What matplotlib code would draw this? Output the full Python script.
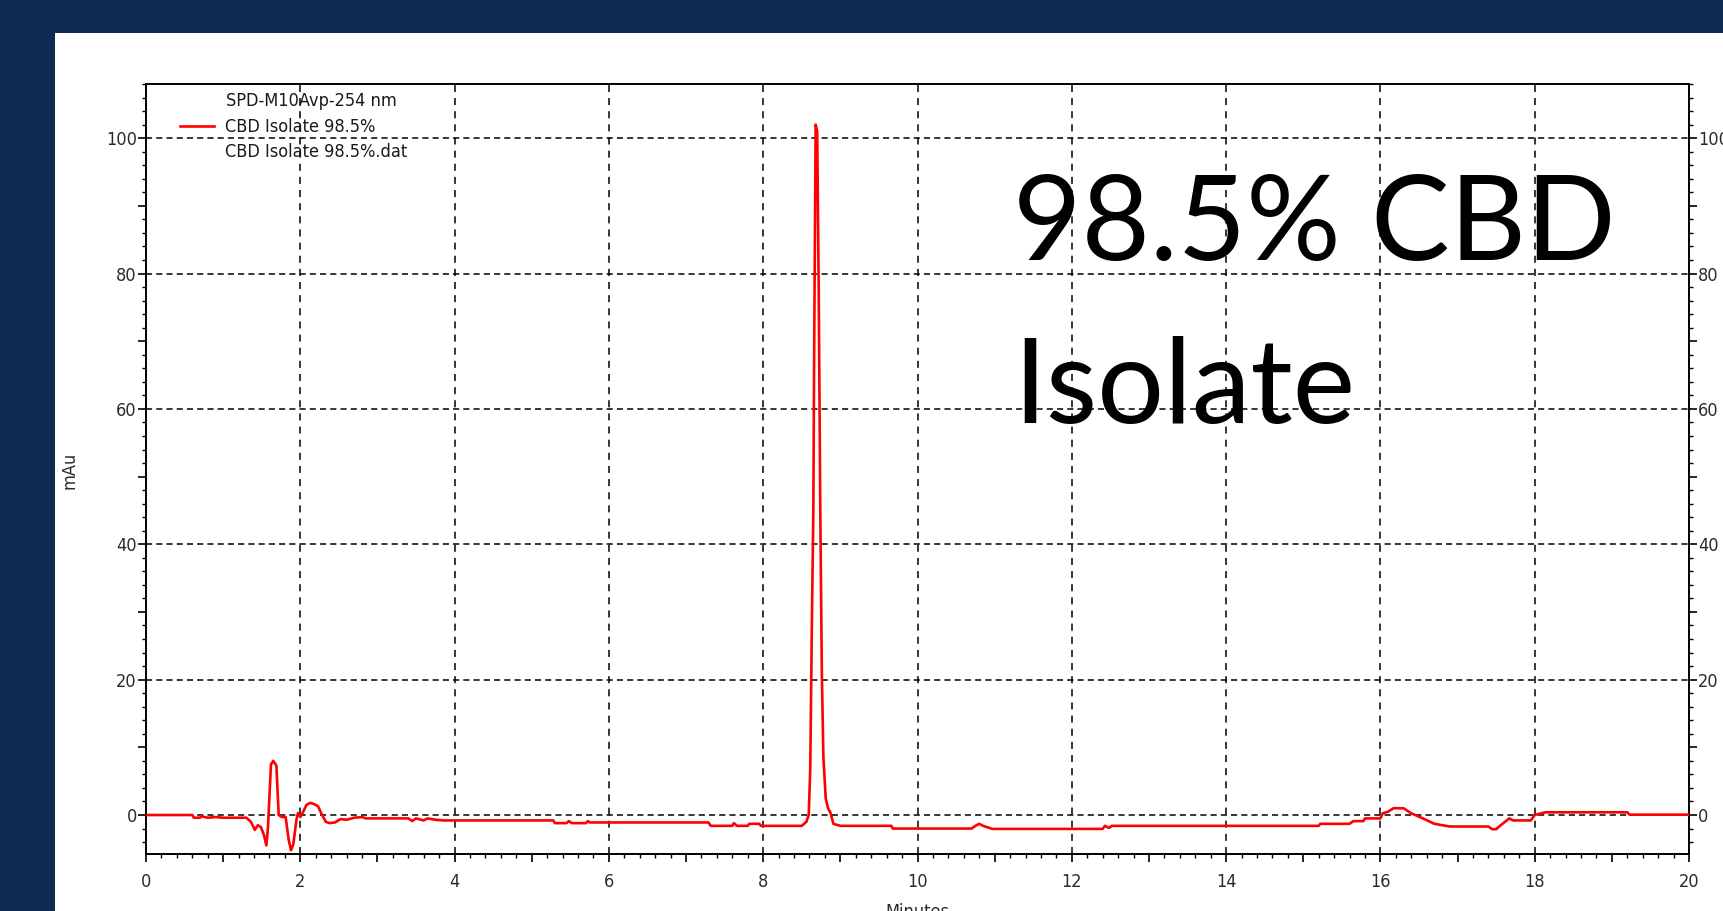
import matplotlib
matplotlib.use("Agg")
import matplotlib.pyplot as plt
from matplotlib import font_manager
from matplotlib.font_manager import FontProperties
from matplotlib.patches import Rectangle
from matplotlib.ticker import MultipleLocator, FuncFormatter

W, H = 1723, 911            # output size in pixels (dpi 100)
NAVY = "#0f2a53"

# HPLC trace: retention time (min) and detector response (mAU)
time_min = [
    0.00, 0.60, 0.62, 0.70, 0.72, 0.80, 0.90, 1.00, 1.30, 1.36, 1.41, 1.45,
    1.49, 1.53, 1.56, 1.58, 1.62, 1.65, 1.69, 1.72, 1.76, 1.81, 1.85, 1.88,
    1.91, 1.95, 1.97, 2.00, 2.03, 2.08, 2.13, 2.18, 2.23, 2.27, 2.33, 2.38,
    2.45, 2.52, 2.60, 2.70, 2.80, 2.85, 3.00, 3.40, 3.45, 3.50, 3.60, 3.65,
    3.75, 3.86, 5.28, 5.30, 5.45, 5.48, 5.52, 5.70, 5.73, 5.75, 7.29, 7.32,
    7.60, 7.62, 7.66, 7.80, 7.82, 7.95, 7.97, 8.50, 8.56, 8.59, 8.61, 8.63,
    8.65, 8.66, 8.68, 8.70, 8.72, 8.74, 8.76, 8.78, 8.81, 8.84, 8.87, 8.91,
    9.00, 9.66, 9.68, 10.70, 10.75, 10.80, 10.85, 10.97, 12.40, 12.43, 12.48,
    12.52, 15.20, 15.22, 15.60, 15.65, 15.78, 15.80, 16.00, 16.03, 16.10,
    16.17, 16.30, 16.40, 16.55, 16.70, 16.90, 17.40, 17.45, 17.50, 17.55,
    17.67, 17.72, 17.95, 18.00, 18.14, 19.20, 19.23, 20.00,
]
mau = [
    0.0, 0.0, -0.4, -0.4, -0.2, -0.4, -0.3, -0.4, -0.4, -1.0, -2.2, -1.5,
    -1.8, -3.0, -4.5, -2.0, 7.5, 8.0, 7.3, 0.0, -0.3, -0.3, -3.7, -5.2,
    -4.3, -0.7, 0.3, -0.3, 0.3, 1.5, 1.8, 1.6, 1.3, 0.3, -1.0, -1.2,
    -1.1, -0.6, -0.7, -0.4, -0.3, -0.5, -0.5, -0.5, -0.9, -0.5, -0.8, -0.5,
    -0.7, -0.8, -0.8, -1.2, -1.2, -0.9, -1.2, -1.2, -0.9, -1.1, -1.1, -1.6,
    -1.6, -1.2, -1.6, -1.6, -1.3, -1.3, -1.6, -1.6, -1.0, 0.0, 6.8, 27.5,
    45.0, 67.5, 102.0, 101.0, 77.0, 45.0, 21.0, 8.6, 2.5, 1.0, 0.4, -1.3,
    -1.6, -1.6, -2.0, -2.0, -1.6, -1.3, -1.6, -2.05, -2.05, -1.6, -1.9,
    -1.6, -1.6, -1.3, -1.3, -0.9, -0.9, -0.5, -0.5, 0.25, 0.5,
    1.0, 1.0, 0.25, -0.5, -1.3, -1.7, -1.7, -2.1, -2.1, -1.6,
    -0.5, -0.8, -0.8, 0.0, 0.4, 0.4, 0.05, 0.05,
]

x_grid = [2, 4, 6, 8, 10, 12, 14, 16, 18]
y_grid = [0, 20, 40, 60, 80, 100]
legend_title = "SPD-M10Avp-254 nm"
trace_name = "CBD Isolate 98.5%"
trace_file = "CBD Isolate 98.5%.dat"
headline = ["98.5% CBD", "Isolate"]

# pick a condensed sans if one is installed, else plain Liberation Sans
small_font = None
for f in font_manager.fontManager.ttflist:
    if f.name == "Liberation Sans Narrow" and f.weight in (400, "normal", "regular") \
            and f.style == "normal":
        small_font = FontProperties(fname=f.fname)
        break
if small_font is None:
    for f in font_manager.fontManager.ttflist:
        if f.name == "DejaVu Sans" and "condensed" in str(f.stretch).lower() \
                and f.style == "normal" and f.weight in (400, "normal", "regular"):
            small_font = FontProperties(fname=f.fname)
            break
SMALL = 13
if small_font is None:
    small_font = FontProperties(family="Liberation Sans")
    SMALL = 11.5
small_font.set_size(SMALL)


def fx(px):
    return px / W


def fy(py):
    return 1 - py / H


fig = plt.figure(figsize=(W / 100, H / 100), dpi=100, facecolor=NAVY)
fig.patches.append(Rectangle((fx(55), 0), 1, fy(33), transform=fig.transFigure,
                             facecolor="white", edgecolor="none", zorder=-5))

ax = fig.add_axes([fx(146), fy(854), fx(1689 - 146), fy(84) - fy(854)])
ax.set_xlim(0, 20)
ax.set_ylim(-5.76, 108.0)

# dashed grid on the labelled positions
for g in y_grid:
    ax.axhline(g, color="black", lw=1.1, ls=(0, (4.0, 2.7)), zorder=1)
for g in x_grid:
    ax.axvline(g, color="black", lw=1.1, ls=(0, (4.6, 4.0)), zorder=1)

ax.plot(time_min, mau, color="#ff0000", lw=1.9, zorder=3)

for s in ax.spines.values():
    s.set_linewidth(1.4)
    s.set_color("black")

ax.xaxis.set_major_locator(MultipleLocator(1))
ax.xaxis.set_minor_locator(MultipleLocator(0.2))
ax.yaxis.set_major_locator(MultipleLocator(10))
ax.yaxis.set_minor_locator(MultipleLocator(2))
ax.xaxis.set_major_formatter(FuncFormatter(lambda v, p: f"{v:.0f}" if round(v) % 2 == 0 else ""))
ax.yaxis.set_major_formatter(FuncFormatter(lambda v, p: f"{v:.0f}" if round(v) % 20 == 0 else ""))

ax.tick_params(which="both", direction="out", color="black", labelcolor="#2b2b2b",
               top=False, right=True, labelright=True)
ax.tick_params(which="major", length=5.5, width=1.2)
ax.tick_params(which="minor", length=3, width=1.0)
ax.tick_params(axis="y", which="major", pad=1)
ax.tick_params(axis="x", which="major", pad=8)
for lab in ax.get_xticklabels() + ax.get_yticklabels():
    lab.set_fontproperties(small_font)
for tick in ax.yaxis.get_major_ticks():
    tick.label2.set_fontproperties(small_font)

# axis titles
fig.text(fx(69), fy(470), "mAu", rotation=90, ha="center", va="center",
         fontproperties=small_font, color="#2b2b2b")
fig.text(fx(917), fy(903), "Minutes", ha="center", va="top",
         fontproperties=small_font, color="#2b2b2b")

# legend block in the top-left corner
fig.text(fx(226), fy(101), legend_title, ha="left", va="center",
         fontproperties=small_font, color="#1a1a1a")
fig.lines.append(plt.Line2D([fx(180), fx(214)], [fy(126), fy(126)],
                            transform=fig.transFigure, color="#ff0000", lw=1.9))
fig.text(fx(225), fy(127), trace_name, ha="left", va="center",
         fontproperties=small_font, color="#1a1a1a")
fig.text(fx(225), fy(152), trace_file, ha="left", va="center",
         fontproperties=small_font, color="#1a1a1a")

# large caption over the plot
fig.text(fx(1013), fy(260), headline[0], ha="left", va="baseline",
         fontsize=85, family="Lato", color="black")
fig.text(fx(1013), fy(423), headline[1], ha="left", va="baseline",
         fontsize=85, family="Lato", color="black")

fig.savefig("out.png", dpi=100, facecolor=NAVY)
